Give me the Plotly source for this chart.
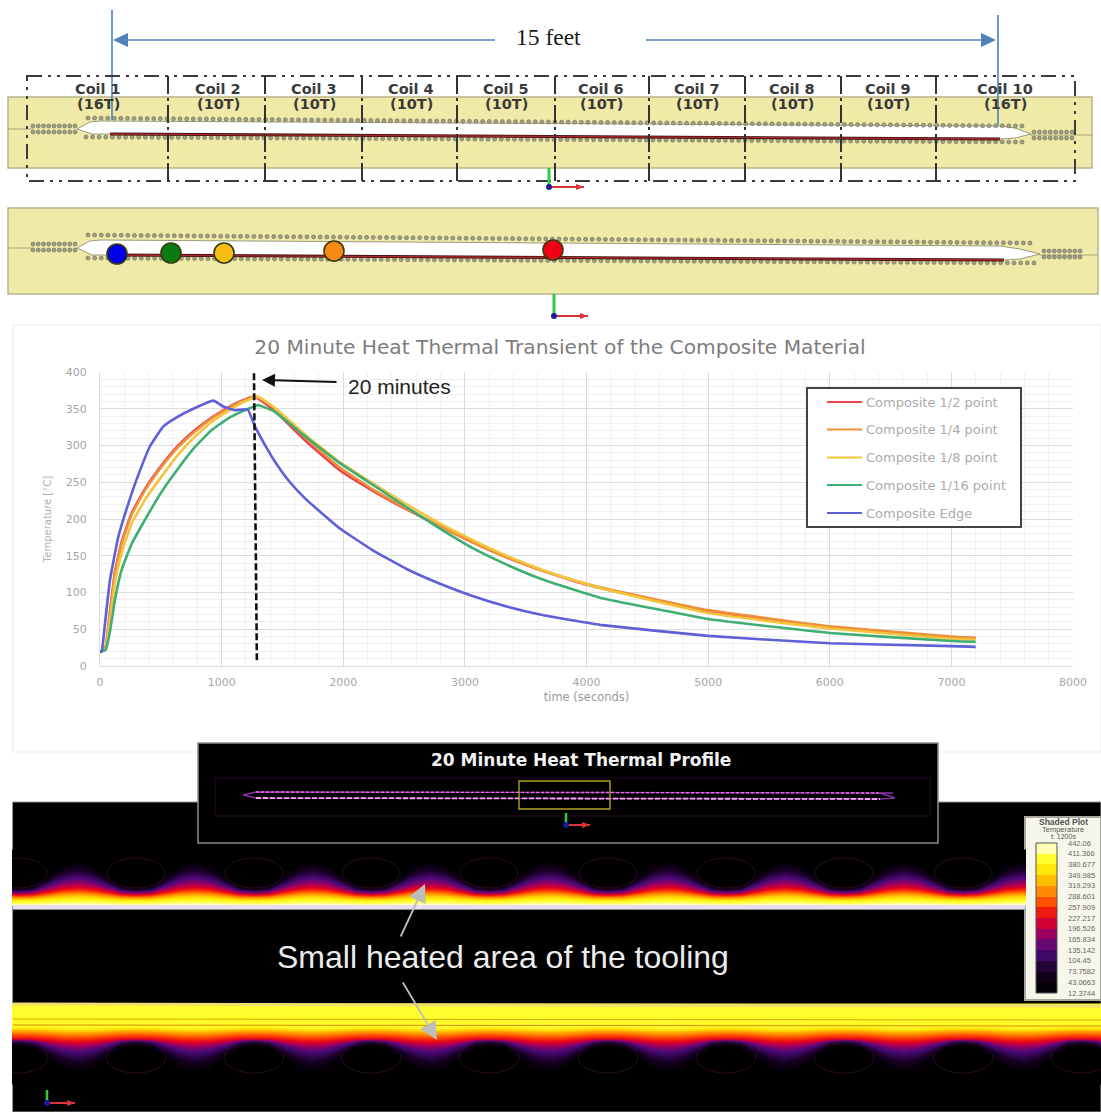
import numpy as np
import plotly.graph_objects as go

# ---------- chart data (seconds, deg C) ----------
TIME = [0, 14, 47, 82, 123, 178, 260, 370, 507, 644, 781, 918, 1055, 1165, 1250, 1300, 1425, 1699, 1973, 2247, 2521, 2795, 3069, 3343, 3617, 3891, 4110, 5000, 6000, 7000, 7200]
T_RED =    [19, 20, 27, 74, 128, 169, 208, 241, 273, 300, 321, 338, 352, 361, 366, 364, 349, 305, 266, 238, 213, 190, 168, 148, 131, 116, 106, 75, 53, 39, 38]
T_ORANGE = [19, 20, 26, 72, 126, 167, 206, 239, 271, 298, 319, 337, 351, 360, 366, 366, 352, 309, 270, 240, 214, 190, 168, 148, 131, 117, 107, 76, 54, 40, 38]
T_YELLOW = [19, 20, 24, 62, 113, 154, 194, 226, 258, 288, 312, 332, 347, 358, 364, 366, 353, 313, 277, 248, 220, 194, 171, 150, 132, 117, 106, 72, 51, 37, 36]
T_GREEN =  [19, 20, 22, 47, 90, 131, 166, 199, 237, 269, 298, 321, 337, 346, 352, 355, 347, 311, 276, 246, 216, 187, 160, 138, 119, 104, 93, 64, 45, 34, 33]
EDGE_TIME = [0, 14, 41, 82, 151, 233, 315, 411, 521, 617, 781, 932, 1014, 1110, 1214, 1274, 1356, 1439, 1562, 1699, 1973, 2247, 2521, 2795, 3069, 3343, 3617, 3891, 4110, 5000, 6000, 7000, 7200]
T_EDGE = [19, 20, 58, 117, 176, 221, 260, 299, 326, 337, 351, 361, 353, 348, 349, 326, 301, 278, 250, 226, 187, 157, 132, 112, 95, 81, 70, 62, 56, 41, 31, 27, 26]
NAMES = ["Composite 1/2 point", "Composite 1/4 point", "Composite 1/8 point", "Composite 1/16 point", "Composite Edge"]
COLORS = ["#e8434f", "#ee8f3a", "#f2c53d", "#3fae73", "#5f5fd8"]
LEGEND_ROW_Y = [402, 429.5, 457.5, 485, 513]

# ---------- labels ----------
COIL_NAMES = ["Coil 1", "Coil 2", "Coil 3", "Coil 4", "Coil 5", "Coil 6", "Coil 7", "Coil 8", "Coil 9", "Coil 10"]
COIL_TURNS = ["(16T)", "(10T)", "(10T)", "(10T)", "(10T)", "(10T)", "(10T)", "(10T)", "(10T)", "(16T)"]
COIL_LABEL_X = [98, 218, 314, 411, 506, 601, 697, 792, 888, 1005]
COIL_DIVIDERS = [168, 265, 362, 457, 555, 649, 745, 841, 936]
SENSOR_X = [117, 171, 224, 334, 553]
SENSOR_Y = [254, 253, 253, 251, 250]
SENSOR_COLORS = ["#0000e6", "#0b7a12", "#f6bd12", "#f58b12", "#f00012"]
SCALE_VALUES = ["442.06", "411.366", "380.677", "349.985", "319.293", "288.601", "257.909", "227.217",
                "196.526", "165.834", "135.142", "104.45", "73.7582", "43.0663", "12.3744"]
COIL_CENTERS = [18, 136, 254, 371, 489, 608, 726, 844, 963, 1081]

# thermal contour depths read at a trough (under a coil) and at a crest (between coils)
LEVELS_TOP = [1.0, 0.85, 0.7, 0.5, 0.28, 0.0]
TOP_CREST = [0, 7, 12, 18, 28, 46]
TOP_TROUGH = [0, 5, 8, 11, 14, 18]
LEVELS_LOW = [0.9, 0.88, 0.72, 0.5, 0.28, 0.0]
LOW_CREST = [0, 22, 27, 36, 46, 68]
LOW_TROUGH = [0, 21, 25, 33, 35, 40]
RIPPLE_PHASE = [0, 0.25, 0.5, 0.75, 1.0]
RIPPLE_W = [0, 0.08, 0.45, 0.85, 1.0]
THERMAL = [[0, "#000000"], [0.14, "#150020"], [0.28, "#4b0a78"], [0.4, "#a00060"], [0.5, "#e8001c"],
           [0.6, "#ff4a00"], [0.7, "#ff9a00"], [0.8, "#ffe000"], [0.9, "#ffff30"], [1, "#ffffff"]]

W, H = 1101, 1112
YELLOW = "#efeaa8"
fig = go.Figure()
shapes, notes = [], []

def rect(x0, y0, x1, y1, fill=None, line=None, lw=1, layer="below", dash=None):
    shapes.append(dict(type="rect", xref="x", yref="y", x0=x0, y0=y0, x1=x1, y1=y1, layer=layer,
                       fillcolor=fill or "rgba(0,0,0,0)",
                       line=dict(color=line or "rgba(0,0,0,0)", width=lw if line else 0, dash=dash or "solid")))

def seg(x0, y0, x1, y1, color, lw=1, dash="solid", layer="above"):
    shapes.append(dict(type="line", xref="x", yref="y", x0=x0, y0=y0, x1=x1, y1=y1, layer=layer,
                       line=dict(color=color, width=lw, dash=dash)))

def poly(path, fill, layer="above", line=None):
    shapes.append(dict(type="path", xref="x", yref="y", path=path, fillcolor=fill, layer=layer,
                       line=dict(color=line or "rgba(0,0,0,0)", width=1 if line else 0)))

def note(x, y, text, size, color, family="Liberation Sans", xanchor="center"):
    notes.append(dict(x=x, y=y, xref="x", yref="y", text=text, showarrow=False, xanchor=xanchor, yanchor="middle",
                      font=dict(size=size, color=color, family=family)))

def over(x, y, **kw):
    fig.add_trace(go.Scatter(x=x, y=y, xaxis="x", yaxis="y", showlegend=False, hoverinfo="skip", **kw))

def triad(x, y0, y1, x1, lw=3):
    seg(x, y0, x, y1, "#2ecc40", lw)
    seg(x, y1, x1, y1, "#d8343a", 2)
    poly(f"M{x1},{y1} L{x1-8},{y1-3} L{x1-8},{y1+3} Z", "#d8343a")
    shapes.append(dict(type="circle", xref="x", yref="y", x0=x-3, x1=x+3, y0=y1-3, y1=y1+3,
                       fillcolor="#1a1a9a", line=dict(width=0), layer="above"))

# ---------- background panels ----------
rect(8, 97, 1092, 168, YELLOW, "#b8b58c", 1.5)
rect(8, 208, 1098, 294, YELLOW, "#b8b58c", 1.5)
rect(13, 325, 1101, 752, "#ffffff", "#ececec", 1.2)
rect(12.5, 802, 1101, 1112, "#000000", "#9a9a9a", 1)
rect(198, 743, 938, 843, "#000000", "#8a8a8a", 1.5)
rect(1025, 817, 1101, 1000, "#f6f6ea", "#a8a8a0", 2)

def tube(cav, layer="below"):
    poly(cav, "#ffffff", layer=layer, line="#9a9a80")

# tube cavities
seg(8, 129, 33, 129, "#a8a67a", 1, layer="below")
seg(1030, 135, 1092, 135, "#a8a67a", 1, layer="below")
tube("M77,129 L90,122 L100,121 L1000,126 L1015,128 L1031,134 L1015,138 L1000,139 L110,134 L92,134 Z")
seg(8, 248, 33, 248, "#a8a67a", 1, layer="below")
seg(1040, 255, 1098, 255, "#a8a67a", 1, layer="below")
tube("M77,248 L90,241 L100,240 L1000,246 L1020,249 L1040,254 L1020,259 L1004,260 L110,255 L92,255 Z")

# ---------- dots and heated lines of the two tube sketches ----------
DOT = dict(mode="markers", marker=dict(size=4, color="#a0a084", line=dict(color="#6a6a58", width=0.6)))
def rows(pairs):
    for (x0, y0, x1, y1, n) in pairs:
        over(list(np.linspace(x0, x1, n)), list(np.linspace(y0, y1, n)), **DOT)
rows([(88, 118, 1022, 126, 143), (86, 137, 1022, 142, 143), (33, 126, 75, 126, 9), (33, 132, 75, 132, 9),
      (1034, 132, 1072, 132, 8), (1034, 138, 1072, 138, 8),
      (88, 235, 1030, 243, 143), (88, 258, 1034, 263, 143), (33, 244, 75, 244, 9), (33, 250, 75, 250, 9),
      (1044, 251, 1080, 251, 8), (1044, 257, 1080, 257, 8)])
over([110, 1000], [134, 139], mode="lines", line=dict(color="#3a1010", width=3))
over([110, 1000], [134, 139], mode="lines", line=dict(color="#a8282c", width=1.3))
over([110, 1004], [255, 260], mode="lines", line=dict(color="#3a1010", width=3))
over([110, 1004], [255, 260], mode="lines", line=dict(color="#a8282c", width=1.3))
over(SENSOR_X, SENSOR_Y, mode="markers",
     marker=dict(size=20, color=SENSOR_COLORS, line=dict(color="#3a3a10", width=1.6)))

# ---------- thermal bands ----------
def ripple(xs):
    dist = np.min(np.abs(xs[:, None] - np.array(COIL_CENTERS)[None, :]), axis=1) / 59.0
    return np.interp(dist, RIPPLE_PHASE, RIPPLE_W)

xs = np.arange(13, 1026, 2.0)
ys = np.arange(850, 906, 1.0)
w = ripple(xs)
z = np.zeros((len(ys), len(xs)))
for j in range(len(xs)):
    dp = np.array(TOP_TROUGH) + w[j] * (np.array(TOP_CREST) - np.array(TOP_TROUGH))
    z[:, j] = np.interp(905 - ys, dp, LEVELS_TOP)
fig.add_trace(go.Heatmap(x=xs, y=ys, z=z, colorscale=THERMAL, zmin=0, zmax=1, showscale=False, zsmooth="best",
                         xaxis="x", yaxis="y", hoverinfo="skip"))
xs2 = np.arange(13, 1102, 2.0)
ys2 = np.arange(1004, 1085, 1.0)
w2 = ripple(xs2)
z2 = np.zeros((len(ys2), len(xs2)))
for j in range(len(xs2)):
    dp = np.array(LOW_TROUGH) + w2[j] * (np.array(LOW_CREST) - np.array(LOW_TROUGH))
    z2[:, j] = np.interp(ys2 - 1005, dp, LEVELS_LOW)
fig.add_trace(go.Heatmap(x=xs2, y=ys2, z=z2, colorscale=THERMAL, zmin=0, zmax=1, showscale=False, zsmooth="best",
                         xaxis="x", yaxis="y", hoverinfo="skip"))

# coil outlines inside the thermal field
for c in COIL_CENTERS:
    if c < 1000:
        shapes.append(dict(type="circle", xref="x", yref="y", x0=c-29, x1=c+29, y0=858, y1=888,
                           line=dict(color="#2c0c24", width=1), layer="above"))
    shapes.append(dict(type="circle", xref="x", yref="y", x0=c-30, x1=c+30, y0=1042, y1=1073,
                       line=dict(color="#2c0c24", width=1), layer="above"))
rect(0, 802, 12, 1112, "#ffffff", layer="above")
rect(13, 905, 1025, 909, "#eadcf0", layer="above")
seg(13, 909.5, 1025, 909.5, "#8a8a8a", 1)
seg(13, 1019, 1101, 1020, "#d8a800", 1)
seg(13, 1025, 1101, 1026, "#d89000", 1)
seg(13, 1004, 1101, 1006, "#efe070", 3)

# ---------- inset overview ----------
over([243, 256, 893], [795, 792, 793], mode="lines", line=dict(color="#8a30a8", width=1.4))
over([243, 256, 880, 895, 880], [795, 798, 799, 798, 793], mode="lines", line=dict(color="#8a30a8", width=1.4))
over([256, 880], [792, 793], mode="lines", line=dict(color="#e070d8", width=1.4, dash="3px,2px"))
over([256, 880], [798, 799], mode="lines", line=dict(color="#f0a8e8", width=1.8, dash="5px,2px"))
rect(215, 778, 930, 816, None, "#28082c", 1)
rect(519, 781, 610, 809, None, "#b0a428", 1.4, layer="above")
triad(566, 813, 825, 590, 2.5)
notes.append(dict(x=581, y=760, xref="x", yref="y", text="<b>20 Minute Heat Thermal Profile</b>", showarrow=False,
                  font=dict(size=17, color="#f2f2f2", family="DejaVu Sans")))

# ---------- scale legend ----------
tick_y = list(np.linspace(843, 993, 15))
band_mid = [(float(a) + float(b)) / 2 for a, b in zip(SCALE_VALUES[:-1], SCALE_VALUES[1:])]
band_z = [[(v - 12.37) / (442.06 - 12.37)] for v in band_mid]
fig.add_trace(go.Heatmap(x=[1036, 1057], y=tick_y, z=band_z, colorscale=THERMAL, zmin=0, zmax=1, showscale=False,
                         xaxis="x", yaxis="y", hoverinfo="skip"))
rect(1036, 843, 1057, 993, None, "#555555", 1, layer="above")
for v, ty in zip(SCALE_VALUES, tick_y):
    note(1066, ty, v, 7.5, "#666666", xanchor="left")
note(1063, 822, "<b>Shaded Plot</b>", 8.5, "#555555")
note(1063, 829, "Temperature", 7.5, "#555555")
note(1063, 836, "t: 1200s", 7, "#555555")

# ---------- top dimension arrow ----------
BLUE = "#4f81bd"
seg(112, 10, 112, 120, BLUE, 1.6)
seg(998, 15, 998, 125, BLUE, 1.6)
seg(125, 40, 495, 40, BLUE, 1.6)
seg(646, 40, 985, 40, BLUE, 1.6)
poly("M113,40 L128,33 L128,47 Z", BLUE)
poly("M996,40 L981,33 L981,47 Z", BLUE)
note(548, 37, "15 feet", 23.5, "#1c1c1c", "Liberation Serif")

# ---------- coil boxes ----------
DASHDOT = "15px,6px,3px,6px,3px,6px"
rect(27, 76, 1075, 181, None, "#3c3c3c", 2, layer="above", dash=DASHDOT)
for d in COIL_DIVIDERS:
    seg(d, 76, d, 181, "#333333", 2, dash="18px,4px,3px,4px")
for x, n, t in zip(COIL_LABEL_X, COIL_NAMES, COIL_TURNS):
    notes.append(dict(x=x, y=89, xref="x", yref="y", text=f"<b>{n}</b>", showarrow=False,
                      font=dict(size=14.5, color="#3a3a3a", family="DejaVu Sans")))
    notes.append(dict(x=x, y=104, xref="x", yref="y", text=f"<b>{t}</b>", showarrow=False,
                      font=dict(size=14.5, color="#3a3a3a", family="DejaVu Sans")))
triad(549, 168, 187, 584)
triad(554, 294, 316, 588)

# ---------- temperature curves on real axes ----------
for name, color, xv, yv in zip(NAMES, COLORS, [TIME] * 4 + [EDGE_TIME], [T_RED, T_ORANGE, T_YELLOW, T_GREEN, T_EDGE]):
    fig.add_trace(go.Scatter(x=xv, y=yv, name=name, mode="lines", xaxis="x2", yaxis="y2", showlegend=False,
                             line=dict(color=color, width=2.6, shape="spline", smoothing=0.35)))

# legend box
rect(807, 388, 1021, 527, "#ffffff", "#444444", 2, layer="above")
for name, color, ly in zip(NAMES, COLORS, LEGEND_ROW_Y):
    seg(827, ly, 862, ly, color, 2.2)
    note(864, ly, name, 13, "#ababab", "DejaVu Sans", xanchor="left")

# 20 minute marker (drawn in data space of the chart axes)
shapes.append(dict(type="line", xref="x2", yref="y2", x0=1265, y0=412, x1=1290, y1=8, layer="above",
                   line=dict(color="#111111", width=2.6, dash="7px,3px")))
notes.append(dict(x=262, y=380, ax=338, ay=382, xref="x", yref="y", axref="x", ayref="y", text="", showarrow=True,
                  arrowhead=2, arrowsize=1.3, arrowwidth=2, arrowcolor="#111111"))
note(346, 386, "20 minutes", 21, "#222222", xanchor="left")

# heated area callout
note(503, 957, "Small heated area of the tooling", 32, "#ececec")
notes.append(dict(x=425, y=884, ax=400, ay=938, xref="x", yref="y", axref="x", ayref="y", text="", showarrow=True,
                  arrowhead=2, arrowsize=2, arrowwidth=1.8, arrowcolor="#bdbdbd"))
notes.append(dict(x=437, y=1040, ax=402, ay=981, xref="x", yref="y", axref="x", ayref="y", text="", showarrow=True,
                  arrowhead=2, arrowsize=2, arrowwidth=1.8, arrowcolor="#bdbdbd"))
triad(47, 1090, 1103, 75, 2.5)

AX = dict(showline=True, linecolor="#dedede", linewidth=1, gridcolor="#dcdcdc", gridwidth=1, zeroline=False, automargin=False,
          ticks="outside", tickcolor="rgba(0,0,0,0)", tickfont=dict(size=11, color="#a6a6a6", family="DejaVu Sans"))
fig.update_layout(
    width=W, height=H, margin=dict(l=0, r=0, t=0, b=0), autosize=False, showlegend=False,
    paper_bgcolor="#ffffff", plot_bgcolor="rgba(0,0,0,0)", shapes=shapes, annotations=notes,
    title=dict(text="20 Minute Heat Thermal Transient of the Composite Material", x=560/W, y=1-347/H,
               xanchor="center", yanchor="middle", font=dict(size=20.2, color="#7d7d7d", family="DejaVu Sans")),
    xaxis=dict(domain=[0, 1], range=[0, W], visible=False, anchor="y", fixedrange=True, automargin=False),
    yaxis=dict(domain=[0, 1], range=[H, 0], visible=False, anchor="x", fixedrange=True, automargin=False),
    xaxis2=dict(domain=[100/W, 1073/W], range=[0, 8000], dtick=1000, anchor="y2", ticklen=6, tickformat="d",
                minor=dict(dtick=200, showgrid=True, gridcolor="#f0f0f0", ticks=""),
                title=dict(text="time (seconds)", standoff=4, font=dict(size=11.5, color="#9a9a9a", family="DejaVu Sans")), **AX),
    yaxis2=dict(domain=[1-666/H, 1-372/H], range=[0, 400], dtick=50, anchor="x2", ticklen=10,
                minor=dict(dtick=10, showgrid=True, gridcolor="#f0f0f0", ticks=""),
                title=dict(text="Temperature [°C]", standoff=12, font=dict(size=10, color="#b0b0b0", family="DejaVu Sans")), **AX),
)
fig.write_html("out.html", config=dict(displayModeBar=False),
               post_script="document.body.style.margin='0';document.documentElement.style.overflow='hidden';")
